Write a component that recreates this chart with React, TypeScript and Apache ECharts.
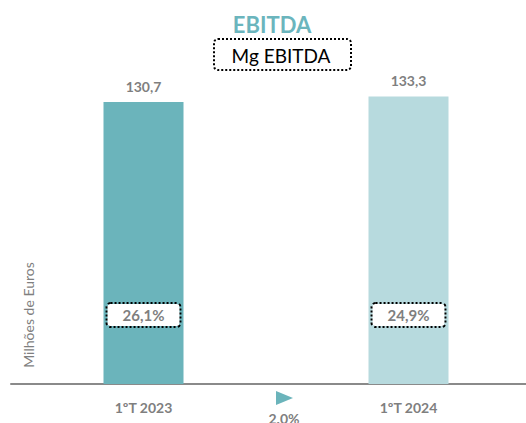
import React, { useEffect, useRef } from "react";
import * as echarts from "echarts";

const categories = ["1ºT 2023", "1ºT 2024"];
const ebitda = [130.7, 133.3];
const ebitdaLabels = ["130,7", "133,3"];
const margins = ["26,1%", "24,9%"];
const marginLevel = [32, 32];
const barColors = ["#6bb4bb", "#b7dade"];
const growthText = "2.0%";

const FONT = "Lato, 'Open Sans', sans-serif";
const GRAY = "#7f7f7f";

export default function App() {
  const ref = useRef<HTMLDivElement>(null);
  useEffect(() => {
    document.body.style.margin = "0";
    document.body.style.overflow = "hidden";
    document.documentElement.style.overflow = "hidden";
    if (!ref.current) return;
    const chart = echarts.init(ref.current, null, { renderer: "svg" });
    chart.setOption({
      animation: false,
      textStyle: { fontFamily: FONT },
      grid: { left: 11, right: 0, top: 82, bottom: 39, containLabel: false },
      xAxis: {
        type: "category",
        data: categories,
        axisLine: { show: true, lineStyle: { color: "#8a8a8a", width: 2 } },
        axisTick: { show: false },
        axisLabel: { color: GRAY, fontWeight: "bold", fontSize: 14, margin: 16, fontFamily: FONT },
      },
      yAxis: {
        type: "value",
        min: 0,
        max: 140,
        show: false,
      },
      graphic: [
        {
          type: "text",
          x: 272,
          y: 24,
          style: { text: "EBITDA", fill: "#6bb5bd", font: `bold 22px ${FONT}`, align: "center", verticalAlign: "middle" },
        },
        {
          type: "rect",
          shape: { x: 214, y: 39, width: 137, height: 31, r: 4 },
          style: { fill: "#fff", stroke: "#000", lineWidth: 2, lineDash: [2, 2] },
        },
        {
          type: "text",
          x: 281,
          y: 55,
          style: { text: "Mg EBITDA", fill: "#000", font: `19px ${FONT}`, align: "center", verticalAlign: "middle" },
        },
        {
          type: "text",
          x: 28,
          y: 315,
          rotation: Math.PI / 2,
          style: { text: "Milhões de Euros", fill: GRAY, font: `14px ${FONT}`, align: "center", verticalAlign: "middle" },
        },
        {
          type: "polygon",
          shape: { points: [[276, 391], [293, 398], [276, 405]] },
          style: { fill: "#6bb4bb" },
        },
        {
          type: "text",
          x: 284,
          y: 418,
          style: { text: growthText, fill: GRAY, font: `bold 14px ${FONT}`, align: "center", verticalAlign: "middle" },
        },
      ],
      series: [
        {
          type: "bar",
          barWidth: 80,
          data: ebitda.map((v, i) => ({ value: v, itemStyle: { color: barColors[i] } })),
          label: {
            show: true,
            position: "top",
            distance: 9,
            color: GRAY,
            fontWeight: "bold",
            fontSize: 14,
            fontFamily: FONT,
            formatter: (p: any) => ebitdaLabels[p.dataIndex],
          },
          z: 2,
        },
        {
          type: "scatter",
          symbolSize: 0,
          itemStyle: { color: "rgba(0,0,0,0)", opacity: 1 },
          data: marginLevel,
          z: 5,
          label: {
            show: true,
            position: "inside",
            color: GRAY,
            fontWeight: "bold",
            fontSize: 15,
            fontFamily: FONT,
            backgroundColor: "#fff",
            borderColor: "#000",
            borderWidth: 2,
            borderType: [2, 2],
            borderRadius: 3,
            padding: [4, 15, 3, 15],
            formatter: (p: any) => margins[p.dataIndex],
          },
        },
      ],
    });
    return () => chart.dispose();
  }, []);
  return <div ref={ref} style={{ width: 541, height: 423 }} />;
}
